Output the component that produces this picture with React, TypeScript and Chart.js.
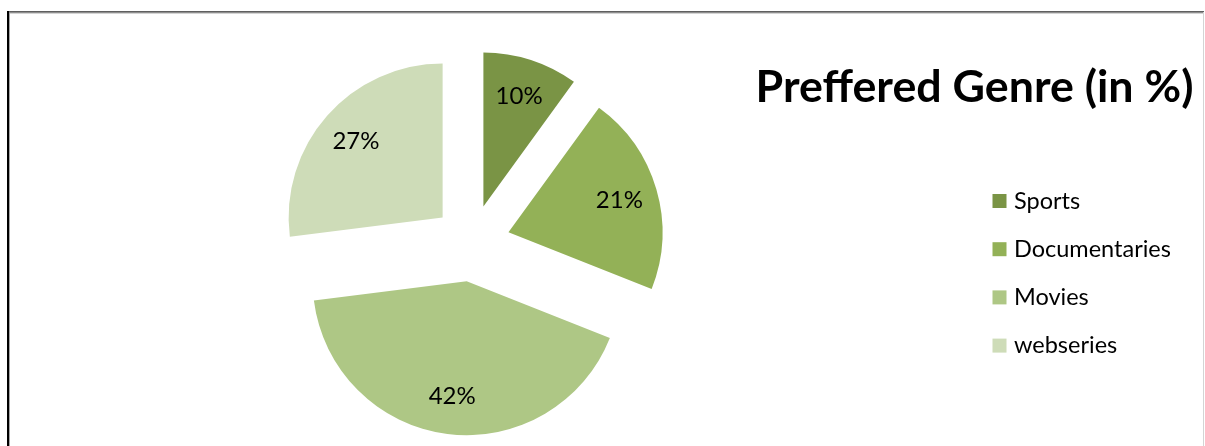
import React, { useEffect, useRef } from "react";
import { Chart, registerables } from "chart.js";

Chart.register(...registerables);

const categories = ["Sports", "Documentaries", "Movies", "webseries"];
const values = [10, 21, 42, 27];
const valueLabels = ["10%", "21%", "42%", "27%"];
const colors = ["#7A9445", "#93B157", "#AEC785", "#CEDCB8"];
const chartTitle = "Preffered Genre (in %)";

const W = 1205;
const H = 446;
const EXPLODE = 38.5;
const RADIUS = 154;
const LABEL_FRACTION = 0.75;

export default function App() {
  const ref = useRef<HTMLCanvasElement>(null);

  useEffect(() => {
    const canvas = ref.current;
    if (!canvas) return;

    const framePlugin = {
      id: "frame",
      beforeDraw(chart: any) {
        const ctx = chart.ctx;
        ctx.save();
        ctx.fillStyle = "#ffffff";
        ctx.fillRect(0, 0, W, H);
        // top border
        ctx.fillStyle = "#5f5f5f";
        ctx.fillRect(7, 11, 1197, 1);
        ctx.fillStyle = "#8e8e8e";
        ctx.fillRect(8, 12, 1196, 1);
        ctx.fillStyle = "#d4d4d4";
        ctx.fillRect(9, 13, 1195, 1);
        // left border
        ctx.fillStyle = "#000000";
        ctx.fillRect(7, 11, 2, H - 11);
        ctx.fillStyle = "#a6a6a6";
        ctx.fillRect(9, 13, 1, H - 13);
        // right border
        ctx.fillStyle = "#d4d4d4";
        ctx.fillRect(1203, 12, 1, H - 12);
        ctx.restore();
      },
    };

    const explodePlugin = {
      id: "explode",
      beforeDatasetDraw(chart: any, args: any) {
        const meta = args.meta;
        const ctx = chart.ctx;
        meta.data.forEach((el: any) => {
          const mid = (el.startAngle + el.endAngle) / 2;
          ctx.save();
          ctx.translate(Math.cos(mid) * EXPLODE, Math.sin(mid) * EXPLODE);
          el.draw(ctx, chart.chartArea);
          ctx.restore();
        });
        return false;
      },
      afterDatasetsDraw(chart: any) {
        const ctx = chart.ctx;
        const meta = chart.getDatasetMeta(0);
        ctx.save();
        ctx.fillStyle = "#000000";
        ctx.font = "24px Lato";
        ctx.textAlign = "center";
        ctx.textBaseline = "middle";
        meta.data.forEach((el: any, i: number) => {
          const mid = (el.startAngle + el.endAngle) / 2;
          const d = EXPLODE + el.outerRadius * LABEL_FRACTION;
          ctx.fillText(valueLabels[i], el.x + Math.cos(mid) * d, el.y + Math.sin(mid) * d);
        });
        ctx.restore();
      },
    };

    const sidePlugin = {
      id: "side",
      afterDraw(chart: any) {
        const ctx = chart.ctx;
        ctx.save();
        // title
        ctx.fillStyle = "#000000";
        ctx.font = "bold 40px Lato";
        const tw = ctx.measureText(chartTitle).width;
        const size = (40 * 438) / tw;
        ctx.font = `bold ${size.toFixed(2)}px Lato`;
        ctx.textAlign = "center";
        ctx.textBaseline = "alphabetic";
        ctx.fillText(chartTitle, 974.5, 102);
        // legend
        ctx.font = "23.5px Lato";
        ctx.textAlign = "left";
        ctx.textBaseline = "middle";
        categories.forEach((c, i) => {
          const cy = 201 + i * 48.2;
          ctx.fillStyle = colors[i];
          ctx.fillRect(992.5, cy - 7, 14, 14);
          ctx.fillStyle = "#000000";
          ctx.fillText(c, 1014, cy);
        });
        ctx.restore();
      },
    };

    const chart = new Chart(canvas, {
      type: "pie",
      data: {
        labels: categories,
        datasets: [
          {
            data: values,
            backgroundColor: colors,
            borderWidth: 0,
          },
        ],
      },
      options: {
        responsive: false,
        maintainAspectRatio: false,
        animation: false,
        events: [],
        radius: RADIUS,
        layout: { padding: { left: 271, right: 533, top: 43, bottom: 3 } },
        plugins: {
          legend: { display: false },
          tooltip: { enabled: false },
          title: { display: false },
        },
      } as any,
      plugins: [framePlugin, explodePlugin, sidePlugin],
    });

    return () => chart.destroy();
  }, []);

  return (
    <div style={{ position: "fixed", left: 0, top: 0, width: W, height: H, background: "#fff" }}>
      <canvas ref={ref} width={W} height={H} style={{ display: "block", width: W, height: H }} />
    </div>
  );
}
